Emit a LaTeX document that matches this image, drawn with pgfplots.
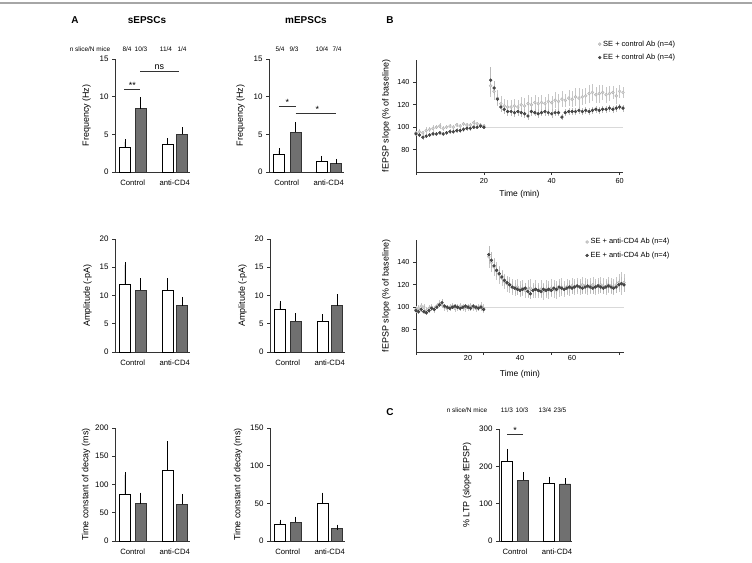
\documentclass[border=0pt]{standalone}
\usepackage{fontspec}
\setmainfont{Liberation Sans}
\usepackage{pgfplots}
\usepackage{pgfplotstable}
\pgfplotsset{compat=1.18}
\definecolor{darkbar}{HTML}{707070}
\definecolor{axc}{HTML}{333333}
\pgfplotsset{
  base/.style={
    scale only axis, clip=false,
    axis lines=left, axis line style={-, axc, line width=0.6pt},
    tick style={axc, line width=0.6pt},
    tick align=outside, major tick length=3bp,
    /pgf/number format/assume math mode=true,
    tick label style={font=\fontsize{8}{9}\selectfont, text=black},
    label style={font=\fontsize{9}{10}\selectfont},
    ytick pos=left, xtick pos=bottom,
  },
  barax/.style={base, width=75bp, height=113bp, xmin=0, xmax=76, ymin=0,
    xtick={18,60.5}, xticklabels={Control,anti-CD4}, xtick style={draw=none},
    xticklabel style={yshift=-1bp, font=\fontsize{7.7}{9}\selectfont}},
  wbar/.style={ybar, bar width=11bp, bar shift=0pt, fill=white, draw=black, line width=0.6pt,
    error bars/.cd, y dir=plus, y explicit, error bar style={black, line width=0.6pt},
    error mark options={black, mark size=2.5bp, line width=0.6pt}},
  dbar/.style={ybar, bar width=11bp, bar shift=0pt, fill=darkbar, draw=axc, line width=0.6pt,
    error bars/.cd, y dir=plus, y explicit, error bar style={black, line width=0.6pt},
    error mark options={black, mark size=2.5bp, line width=0.6pt}},
  tcax/.style={base, height=112bp, ymin=60, ymax=160, ytick={80,100,120,140},
    tick label style={font=\fontsize{7.3}{9}\selectfont},
    xlabel={Time (min)}, ylabel={fEPSP slope (\% of baseline)},
    xlabel style={font=\fontsize{8.5}{10}\selectfont},
    legend style={draw=none, fill=none, font=\fontsize{7.5}{9}\selectfont, row sep=2.5bp},
    legend cell align=left},
  seser/.style={only marks, mark=*, mark size=1.5bp, mark options={fill=gray!35, draw=gray!65, line width=0.3pt},
    error bars/.cd, y dir=both, y explicit, error mark=none, error bar style={gray!45, line width=0.35pt}},
  eeser/.style={only marks, mark=*, mark size=1.5bp, mark options={fill=black!70, draw=black!80, line width=0.3pt},
    error bars/.cd, y dir=both, y explicit, error mark=none, error bar style={gray!55, line width=0.35pt}},
}
\newcommand{\nsz}{\fontsize{6.5}{7}\selectfont}
\newcommand{\sig}{\fontsize{9}{10}\selectfont}

\pgfplotstableread{
x y e
0 95 2
1 96 2
2 95 2
3 97 3
4 98 2
5 99 3
6 100 2
7 101 3
8 99 2
9 100 2
10 101 2
11 100 2
12 102 2
13 101 2
14 103 2
15 102 2
16 102 2
17 104 2
18 103 2
19 102 2
20 101 2
22 137 10
23 132 8
24 126 7
25 121 7
26 119 6
27 118 6
28 118 6
29 119 6
30 118 6
31 120 7
32 119 7
33 121 8
34 120 7
35 122 7
36 121 6
37 122 7
38 121 6
39 123 7
40 122 6
41 124 7
42 123 7
43 125 7
44 124 6
45 126 7
46 125 7
47 127 8
48 126 9
49 127 7
50 128 7
51 130 8
52 131 8
53 129 7
54 130 8
55 131 7
56 129 7
57 130 7
58 131 6
59 128 7
60 132 6
61 131 5
}\seTop

\pgfplotstableread{
x y e
0 94 2
1 93 2
2 91 2
3 92 2
4 93 2
5 94 2
6 94 2
7 95 2
8 94 2
9 95 2
10 96 2
11 96 2
12 97 2
13 97 2
14 98 2
15 99 2
16 99 2
17 100 2
18 100 2
19 101 2
20 100 2
22 142 12
23 135 6
24 125 5
25 118 4
26 116 4
27 114 4
28 114 4
29 113 4
30 114 4
31 113 4
32 112 4
33 110 4
34 114 4
35 113 3
36 112 4
37 113 3
38 114 4
39 113 3
40 112 4
41 113 3
42 113 3
43 109 3
44 113 3
45 114 3
46 114 3
47 114 3
48 115 3
49 114 3
50 115 3
51 114 3
52 115 3
53 116 3
54 115 3
55 116 3
56 116 3
57 117 3
58 116 3
59 117 3
60 118 3
61 117 3
}\eeTop

\pgfplotstableread{
x y e
0 98 3
1 99 3
2 101 3
3 100 3
4 97 3
5 99 3
6 100 3
7 98 3
8 101 3
9 103 3
10 102 3
11 100 3
12 99 3
13 100 3
14 101 3
15 99 3
16 100 3
17 101 3
18 100 3
19 99 3
20 100 3
21 101 3
22 100 3
23 99 3
24 100 3
25 101 4
26 99 4
28 145 10
29 140 9
30 136 8
31 132 8
32 129 8
33 126 7
34 123 7
35 121 7
36 120 7
37 118 7
38 117 7
39 118 7
40 116 7
41 117 7
42 115 7
43 116 8
44 117 8
45 115 7
46 116 8
47 115 7
48 116 8
49 114 8
50 116 8
51 115 8
52 117 8
53 116 8
54 115 8
55 117 8
56 118 8
57 116 7
58 118 7
59 117 7
60 119 7
61 118 7
62 119 7
63 118 7
64 120 7
65 119 7
66 118 7
67 119 7
68 120 7
69 118 7
70 119 7
71 120 7
72 119 7
73 118 7
74 120 7
75 119 7
76 118 7
77 120 7
78 122 8
79 121 10
80 122 8
}\seBot

\pgfplotstableread{
x y e
0 97 2
1 96 2
2 98 2
3 96 2
4 95 2
5 97 2
6 99 2
7 98 2
8 100 2
9 102 2
10 104 3
11 101 2
12 100 2
13 99 2
14 100 2
15 101 2
16 100 2
17 99 2
18 100 2
19 101 2
20 100 2
21 99 2
22 101 2
23 100 2
24 99 2
25 100 2
26 98 2
28 147 8
29 142 7
30 137 6
31 133 6
32 130 6
33 127 5
34 124 5
35 122 5
36 120 5
37 118 5
38 117 5
39 116 5
40 115 5
41 116 5
42 117 5
43 114 5
44 112 5
45 115 5
46 116 5
47 115 5
48 114 5
49 116 5
50 115 5
51 116 5
52 115 5
53 117 5
54 116 5
55 118 5
56 117 5
57 116 5
58 117 5
59 118 5
60 117 5
61 118 5
62 119 5
63 118 5
64 117 5
65 118 5
66 119 5
67 118 5
68 117 5
69 118 5
70 119 5
71 118 5
72 117 5
73 118 5
74 119 5
75 118 5
76 117 5
77 118 5
78 120 5
79 121 6
80 120 6
}\eeBot

\begin{document}
\begin{tikzpicture}
\useasboundingbox (0bp,0bp) rectangle (752bp,563bp);
\draw[gray!70, line width=1.2bp] (0bp,560bp) -- (752bp,560bp);

% panel letters and titles
\node[font=\bfseries\fontsize{10}{11}\selectfont] at (75bp,543bp) {A};
\node[font=\bfseries\fontsize{10}{11}\selectfont] at (147bp,543bp) {sEPSCs};
\node[font=\bfseries\fontsize{10}{11}\selectfont] at (306bp,543bp) {mEPSCs};
\node[font=\bfseries\fontsize{10}{11}\selectfont] at (390bp,543bp) {B};
\node[font=\bfseries\fontsize{10}{11}\selectfont] at (390bp,151bp) {C};

% n slice labels
\node[font=\nsz] at (90bp,514bp) {n slice/N mice};
\node[font=\nsz] at (127bp,514bp) {8/4};
\node[font=\nsz] at (141bp,514bp) {10/3};
\node[font=\nsz] at (166bp,514bp) {11/4};
\node[font=\nsz] at (182bp,514bp) {1/4};
\node[font=\nsz] at (280bp,514bp) {5/4};
\node[font=\nsz] at (294bp,514bp) {9/3};
\node[font=\nsz] at (322bp,514bp) {10/4};
\node[font=\nsz] at (337bp,514bp) {7/4};
\node[font=\nsz] at (467bp,153bp) {n slice/N mice};
\node[font=\nsz] at (507bp,153bp) {11/3};
\node[font=\nsz] at (522bp,153bp) {10/3};
\node[font=\nsz] at (545bp,153bp) {13/4};
\node[font=\nsz] at (560bp,153bp) {23/5};

% ---- sEPSC frequency
\begin{axis}[barax, at={(115bp,391bp)}, ymax=15, ytick={0,5,10,15}, ylabel={Frequency (Hz)}, ylabel shift=2bp]
\addplot[wbar] coordinates {(10,3.3) +- (0,0.7) (53,3.7) +- (0,0.45)};
\addplot[dbar] coordinates {(26,8.4) +- (0,1.2) (68,5.0) +- (0,0.6)};
\draw[axc, line width=0.6pt] (axis cs:9.5,11.0) -- (axis cs:25.5,11.0);
\node[font=\sig, above, inner sep=0.5bp] at (axis cs:17.5,11.0) {**};
\draw[axc, line width=0.6pt] (axis cs:25.5,13.4) -- (axis cs:65,13.4);
\node[font=\sig, above, inner sep=1bp] at (axis cs:45,13.4) {ns};
\end{axis}

% ---- mEPSC frequency
\begin{axis}[barax, at={(269bp,391bp)}, ymax=15, ytick={0,5,10,15}, ylabel={Frequency (Hz)}, ylabel shift=2bp]
\addplot[wbar] coordinates {(10,2.3) +- (0,0.5) (53,1.4) +- (0,0.4)};
\addplot[dbar] coordinates {(27,5.3) +- (0,1.0) (68,1.1) +- (0,0.3)};
\draw[axc, line width=0.6pt] (axis cs:10,8.76) -- (axis cs:27,8.76);
\node[font=\sig, above, inner sep=0.5bp] at (axis cs:18.5,8.76) {*};
\draw[axc, line width=0.6pt] (axis cs:27,7.83) -- (axis cs:68,7.83);
\node[font=\sig, above, inner sep=0.5bp] at (axis cs:49,7.83) {*};
\end{axis}

% ---- sEPSC amplitude
\begin{axis}[barax, at={(115bp,211bp)}, ymax=20, ytick={0,5,10,15,20}, ylabel={Amplitude (-pA)}, ylabel shift=1bp]
\addplot[wbar] coordinates {(10,12.0) +- (0,3.4) (53,10.9) +- (0,1.7)};
\addplot[dbar] coordinates {(26,10.9) +- (0,1.7) (68,8.2) +- (0,1.1)};
\end{axis}

% ---- mEPSC amplitude
\begin{axis}[barax, at={(270bp,211bp)}, ymax=20, ytick={0,5,10,15,20}, ylabel={Amplitude (-pA)}, ylabel shift=1bp]
\addplot[wbar] coordinates {(10,7.6) +- (0,1.0) (53,5.5) +- (0,0.7)};
\addplot[dbar] coordinates {(26,5.4) +- (0,1.0) (68,8.2) +- (0,1.6)};
\end{axis}

% ---- sEPSC decay
\begin{axis}[barax, at={(115bp,22bp)}, ymax=200, ytick={0,50,100,150,200}, ylabel={Time constant of decay (ms)}, ylabel shift=-2bp]
\addplot[wbar] coordinates {(10,82) +- (0,35) (53,125) +- (0,47)};
\addplot[dbar] coordinates {(26,66) +- (0,15) (68,65) +- (0,14)};
\end{axis}

% ---- mEPSC decay
\begin{axis}[barax, at={(270bp,22bp)}, ymax=150, ytick={0,50,100,150}, ylabel={Time constant of decay (ms)}, ylabel shift=1bp]
\addplot[wbar] coordinates {(10,22) +- (0,3) (53,50) +- (0,11)};
\addplot[dbar] coordinates {(26,25) +- (0,4) (68,17) +- (0,1.5)};
\end{axis}

% ---- B top
\begin{axis}[tcax, at={(416bp,391bp)}, width=207bp, xmin=0, xmax=61,
  xtick={0,20,40,60}, xticklabels={,20,40,60},
  legend style={at={(0.865,1.21)}, anchor=north west}]
\addplot[gray!30, line width=0.6pt, forget plot] coordinates {(20,100) (61,100)};
\addplot[seser] table[x=x, y=y, y error=e] {\seTop};
\addlegendentry{SE + control Ab (n=4)}
\addplot[eeser] table[x=x, y=y, y error=e] {\eeTop};
\addlegendentry{EE + control Ab (n=4)}
\end{axis}

% ---- B bottom
\begin{axis}[tcax, at={(416bp,211bp)}, width=208bp, xmin=0, xmax=80,
  xtick={0,26,52,78}, xticklabels={},
  extra x ticks={20,40,60}, extra x tick labels={20,40,60},
  extra x tick style={major tick length=0pt},
  legend style={at={(0.80,1.05)}, anchor=north west}]
\addplot[gray!30, line width=0.6pt, forget plot] coordinates {(26,100) (80,100)};
\addplot[seser] table[x=x, y=y, y error=e] {\seBot};
\addlegendentry{SE + anti-CD4 Ab (n=4)}
\addplot[eeser] table[x=x, y=y, y error=e] {\eeBot};
\addlegendentry{EE + anti-CD4 Ab (n=4)}
\end{axis}

% ---- C
\begin{axis}[barax, at={(499bp,22bp)}, width=73bp, height=112bp, xmax=73, ymax=300,
  ytick={0,100,200,300}, xtick={16,58}, ylabel={\% LTP (slope fEPSP)}, ylabel shift=1bp]
\addplot[wbar] coordinates {(8,213) +- (0,27) (50,155) +- (0,11)};
\addplot[dbar] coordinates {(24,163) +- (0,14) (66,153) +- (0,9)};
\draw[axc, line width=0.6pt] (axis cs:8,287) -- (axis cs:24,287);
\node[font=\sig, above, inner sep=0.5bp] at (axis cs:16,287) {*};
\end{axis}
\end{tikzpicture}
\end{document}
